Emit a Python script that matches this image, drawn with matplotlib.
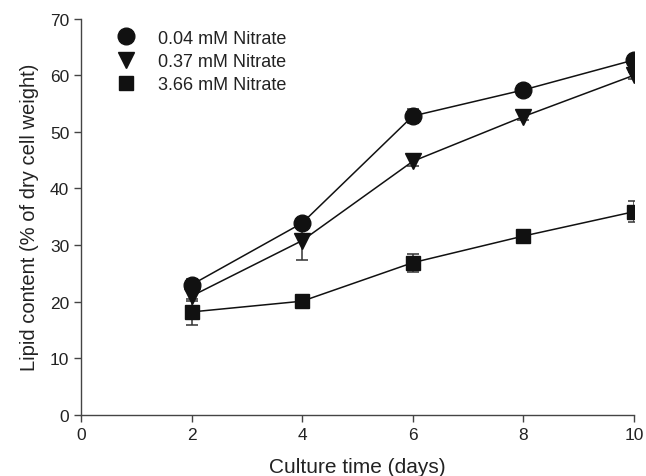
import numpy as np
import matplotlib.pyplot as plt
from matplotlib.lines import Line2D

plt.rcParams['font.family'] = ['Liberation Sans', 'DejaVu Sans']

days = [2, 4, 6, 8, 10]
labels = ['0.04 mM Nitrate', '0.37 mM Nitrate', '3.66 mM Nitrate']
lipid_004 = [23.0, 33.9, 52.8, 57.4, 62.7]
err_004 = [1.0, 0.8, 1.3, 0.6, 0.8]
lipid_037 = [21.0, 30.8, 44.8, 52.7, 60.0]
err_037 = [0.8, 3.4, 0.8, 0.6, 0.6]
lipid_366 = [18.2, 20.1, 26.9, 31.6, 35.9]
err_366 = [2.3, 0.6, 1.6, 0.6, 1.9]

fig = plt.figure(figsize=(6.46, 4.77), dpi=100)
ax = fig.add_axes([0.1254, 0.1279, 0.856, 0.831])

col = '#111111'
series = [(lipid_004, err_004, 'o', 12), (lipid_037, err_037, 'v', 12), (lipid_366, err_366, 's', 10.5)]
handles = []
for (y, e, m, ms), lab in zip(series, labels):
    ax.errorbar(days, y, yerr=e, fmt='-' + m, color=col, ecolor='#333333', ms=ms,
                lw=1.1, elinewidth=1.1, capsize=4, capthick=1.1)
    handles.append(Line2D([], [], ls='none', marker=m, ms=ms, color=col))

ax.set_xlim(0, 10)
ax.set_ylim(0, 70)
ax.set_xticks([0, 2, 4, 6, 8, 10])
ax.set_yticks(range(0, 71, 10))
ax.spines['top'].set_visible(False)
ax.spines['right'].set_visible(False)
for s in ['left', 'bottom']:
    ax.spines[s].set_color('#444444')
    ax.spines[s].set_linewidth(1.0)
ax.tick_params(direction='out', length=5, width=1, colors='#444444', labelcolor='#222222', labelsize=12.5)
ax.set_xlabel('Culture time (days)', fontsize=15, color='#222222', labelpad=11)
ax.set_ylabel('Lipid content (% of dry cell weight)', fontsize=14.5, color='#222222', labelpad=8)

leg = ax.legend(handles, labels, loc='upper left', bbox_to_anchor=(0.033, 1.013), frameon=False,
                fontsize=13, handletextpad=1.18, labelspacing=0.35, handlelength=1.2)
for t in leg.get_texts():
    t.set_color('#222222')

fig.savefig('out.png', dpi=100)
